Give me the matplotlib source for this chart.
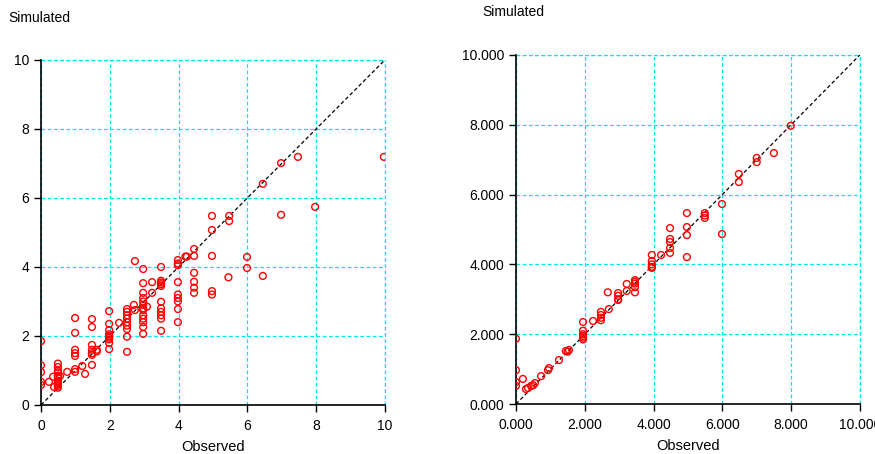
import numpy as np
import matplotlib.pyplot as plt

plt.rcParams['font.family'] = ['Liberation Sans', 'DejaVu Sans']

# left panel: observed vs simulated
obs_left = [0, 0, 0, 0, 0, 0.23, 0.35, 0.38,
            0.49, 0.49, 0.49, 0.49, 0.49, 0.49, 0.49, 0.49, 0.49, 0.49, 0.49,
            0.55, 0.76, 0.99, 0.99, 0.99, 0.99, 0.99, 0.99, 0.99, 1.2, 1.28,
            1.48, 1.48, 1.48, 1.48, 1.48, 1.48, 1.48, 1.62, 1.62,
            1.98, 1.98, 1.98, 1.98, 1.98, 1.98, 1.98, 1.98, 1.98, 2.27,
            2.5, 2.5, 2.5, 2.5, 2.5, 2.5, 2.5, 2.5, 2.5, 2.73, 2.7, 2.73,
            2.97, 2.97, 2.97, 2.97, 2.97, 2.97, 2.97, 2.97, 2.97, 2.97, 2.97, 2.97, 2.97, 3.08,
            3.23, 3.23, 3.49, 3.49, 3.49, 3.49, 3.49, 3.49, 3.49, 3.49, 3.49, 3.49, 3.49,
            3.98, 3.98, 3.98, 3.98, 3.98, 3.98, 3.98, 3.98, 3.98, 4.2, 4.24,
            4.45, 4.45, 4.45, 4.45, 4.45, 4.45,
            4.97, 4.97, 4.97, 4.97, 4.97, 5.45, 5.47, 5.47, 5.99, 5.99,
            6.45, 6.45, 6.98, 6.98, 7.47, 7.97, 9.97]
sim_left = [1.85, 1.15, 0.95, 0.67, 0.58, 0.67, 0.82, 0.52,
            1.2, 1.1, 1.0, 0.95, 0.85, 0.8, 0.7, 0.65, 0.6, 0.55, 0.5,
            0.84, 0.96, 2.52, 2.09, 1.6, 1.5, 1.42, 1.04, 0.96, 1.13, 0.9,
            2.49, 2.26, 1.74, 1.6, 1.5, 1.45, 1.16, 1.6, 1.55,
            2.72, 2.35, 2.17, 2.05, 2.0, 1.95, 1.9, 1.8, 1.62, 2.38,
            2.78, 2.7, 2.6, 2.5, 2.4, 2.3, 2.2, 1.98, 1.54, 4.17, 2.9, 2.75,
            3.94, 3.53, 3.25, 3.1, 3.0, 2.9, 2.8, 2.75, 2.6, 2.5, 2.4, 2.26, 2.06, 2.85,
            3.56, 3.25, 4.0, 3.6, 3.55, 3.5, 3.45, 2.99, 2.8, 2.7, 2.6, 2.5, 2.15,
            4.2, 4.1, 4.05, 3.56, 3.2, 3.1, 3.0, 2.78, 2.4, 4.3, 4.3,
            4.52, 4.32, 3.83, 3.57, 3.4, 3.25,
            5.48, 5.07, 4.32, 3.3, 3.2, 3.7, 5.48, 5.33, 4.29, 3.97,
            6.41, 3.74, 7.01, 5.51, 7.19, 5.74, 7.19]

# right panel: observed vs simulated
obs_right = [0, 0, 0, 0, 0.2, 0.29, 0.35, 0.44, 0.5, 0.55,
             0.73, 0.93, 0.96, 1.25, 1.45, 1.5, 1.54,
             1.95, 1.95, 1.95, 1.95, 1.95, 1.95, 2.24, 2.47, 2.47, 2.47, 2.47,
             2.67, 2.7, 2.97, 2.97, 2.97, 2.97, 3.22, 3.22,
             3.46, 3.46, 3.46, 3.46, 3.46,
             3.95, 3.95, 3.95, 3.95, 3.95, 4.22,
             4.48, 4.48, 4.48, 4.48, 4.48,
             4.97, 4.97, 4.97, 4.97, 5.49, 5.49, 5.49,
             5.99, 5.99, 6.48, 6.48, 7.0, 7.0, 7.5, 7.99]
sim_right = [1.87, 0.97, 0.63, 0.52, 0.72, 0.43, 0.46, 0.52, 0.54, 0.6,
             0.8, 0.97, 1.03, 1.26, 1.52, 1.5, 1.55,
             2.35, 2.1, 2.0, 1.95, 1.9, 1.85, 2.38, 2.64, 2.55, 2.47, 2.4,
             3.2, 2.72, 3.18, 3.1, 3.0, 2.98, 3.44, 3.24,
             3.55, 3.5, 3.45, 3.35, 3.2,
             4.27, 4.1, 4.0, 3.93, 3.9, 4.27,
             5.04, 4.73, 4.64, 4.47, 4.33,
             5.47, 5.07, 4.84, 4.21, 5.47, 5.4, 5.33,
             5.73, 4.87, 6.59, 6.36, 7.05, 6.93, 7.19, 7.97]

fig = plt.figure(figsize=(8.75, 4.54), dpi=100)
ax1 = fig.add_axes([0.0469, 0.108, 0.393, 0.760])
ax2 = fig.add_axes([0.5897, 0.110, 0.393, 0.769])

grid_col = '#00e5ee'
panels = [(ax1, obs_left, sim_left, '%g'), (ax2, obs_right, sim_right, '%.3f')]
for ax, obs, sim, fmt in panels:
    ax.plot([0, 10], [0, 10], color='black', linestyle=(0, (3, 2)), linewidth=0.9, zorder=2)
    ax.scatter(obs, sim, s=24, facecolors='none', edgecolors='red', linewidths=1.0, zorder=3)
    ax.set_xlim(0, 10)
    ax.set_ylim(0, 10)
    ax.set_xticks(np.arange(0, 11, 2))
    ax.set_yticks(np.arange(0, 11, 2))
    ax.xaxis.set_major_formatter(plt.FormatStrFormatter(fmt))
    ax.yaxis.set_major_formatter(plt.FormatStrFormatter(fmt))
    ax.grid(True, color=grid_col, linestyle=(0, (3, 2)), linewidth=0.9)
    ax.set_axisbelow(True)
    ax.spines['top'].set_visible(False)
    ax.spines['right'].set_visible(False)
    ax.spines['left'].set_linewidth(1.2)
    ax.spines['bottom'].set_linewidth(1.2)
    ax.tick_params(direction='out', length=5, width=1, labelsize=10, colors='black')
    ax.tick_params(axis='x', pad=5)
    ax.set_xlabel('Observed', fontsize=10.5, labelpad=5)
    # outer grid lines at 10 act as frame
    ax.axhline(10, color=grid_col, linestyle=(0, (3, 2)), linewidth=0.9, clip_on=False)
    ax.axvline(10, color=grid_col, linestyle=(0, (3, 2)), linewidth=0.9, clip_on=False)

fig.text(8 / 875, 1 - 18 / 454, 'Simulated', fontsize=10, va='center', ha='left')
fig.text(482 / 875, 1 - 12 / 454, 'Simulated', fontsize=10, va='center', ha='left')

fig.savefig('out.png', dpi=100)
